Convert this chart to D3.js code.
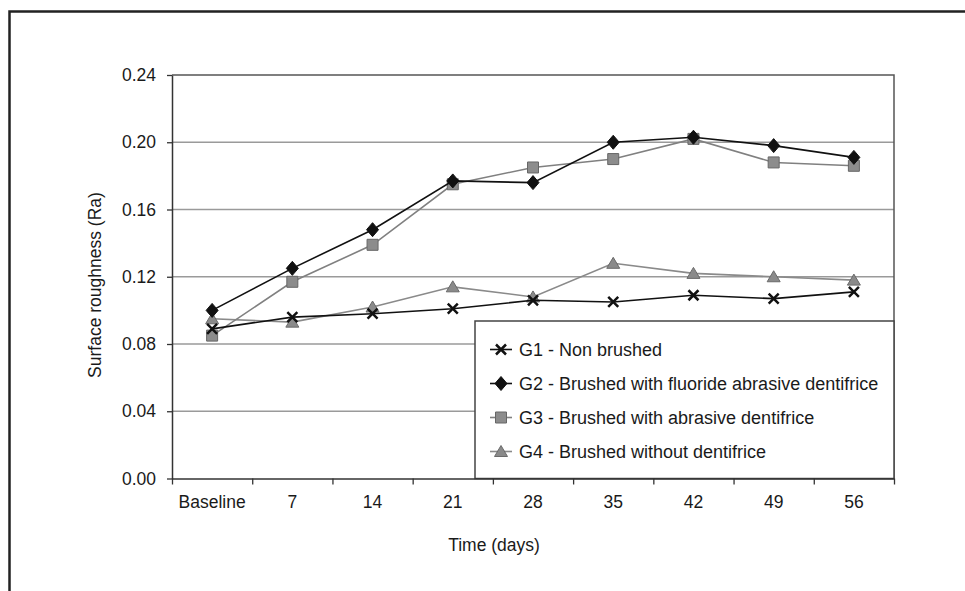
<!DOCTYPE html>
<html>
<head>
<meta charset="utf-8">
<script src="https://cdn.jsdelivr.net/npm/d3@7"></script>
<style>
  body { margin: 0; background: #fff; }
  svg { display: block; font-family: "Liberation Sans", Arial, sans-serif; }
</style>
</head>
<body>
<div id="container"></div>
<script>
// chart values
let days = ["Baseline", "7", "14", "21", "28", "35", "42", "49", "56"];
let g1 = [0.089, 0.096, 0.098, 0.101, 0.106, 0.105, 0.109, 0.107, 0.111];
let g2 = [0.100, 0.125, 0.148, 0.177, 0.176, 0.200, 0.203, 0.198, 0.191];
let g3 = [0.085, 0.117, 0.139, 0.175, 0.185, 0.190, 0.202, 0.188, 0.186];
let g4 = [0.095, 0.093, 0.102, 0.114, 0.108, 0.128, 0.122, 0.120, 0.118];
let groupNames = [
  "G1 - Non brushed",
  "G2 - Brushed with fluoride abrasive dentifrice",
  "G3 - Brushed with abrasive dentifrice",
  "G4 - Brushed without dentifrice"
];
let yTicks = [0, 0.04, 0.08, 0.12, 0.16, 0.20, 0.24];

///////////////////////////

let w = 965;
let h = 591;
let plotLeft = 172, plotRight = 894, plotTop = 75, plotBottom = 478.5;

let viz = d3.select("#container").append("svg")
    .attr("width", w)
    .attr("height", h);

// outer frame (only top and left edges show)
viz.append("path")
    .attr("d", "M9.5,591 V11.5 H965")
    .attr("fill", "none")
    .attr("stroke", "#222")
    .attr("stroke-width", 2.5);

let x = d3.scaleBand().domain(days).range([plotLeft, plotRight]).padding(0);
let xEdge = d3.scaleLinear().domain([0, days.length]).range([plotLeft, plotRight]);
let y = d3.scaleLinear().domain([0, 0.24]).range([plotBottom, plotTop]);

// gridlines
viz.append("g").selectAll("line")
    .data(yTicks.filter(d => d > 0 && d < 0.24))
    .enter().append("line")
    .attr("x1", plotLeft).attr("x2", plotRight)
    .attr("y1", d => y(d)).attr("y2", d => y(d))
    .attr("stroke", "#9a9a9a")
    .attr("stroke-width", 1.5);

// plot border top + right
viz.append("path")
    .attr("d", `M${plotLeft},${y(0.24)} H${plotRight} V${plotBottom}`)
    .attr("fill", "none")
    .attr("stroke", "#555")
    .attr("stroke-width", 1.5);

let series = [
  { name: groupNames[3], values: g4, line: "#8a8a8a", fill: "#8a8a8a", stroke: "#6a6a6a", shape: "tri" },
  { name: groupNames[2], values: g3, line: "#808080", fill: "#8c8c8c", stroke: "#666", shape: "sq" },
  { name: groupNames[0], values: g1, line: "#111", fill: "none", stroke: "#111", shape: "x" },
  { name: groupNames[1], values: g2, line: "#111", fill: "#111", stroke: "#111", shape: "dia" }
];

function markerPath(shape) {
  if (shape === "tri") return "M0,-6 L6.5,5 L-6.5,5 Z";
  if (shape === "sq") return "M-5.5,-5.5 H5.5 V5.5 H-5.5 Z";
  if (shape === "dia") return "M0,-7 L6,0 L0,7 L-6,0 Z";
  return "M-5,-5 L5,5 M5,-5 L-5,5";
}

function drawMarker(sel, s) {
  sel.append("path")
    .attr("d", markerPath(s.shape))
    .attr("fill", s.fill)
    .attr("stroke", s.stroke)
    .attr("stroke-width", s.shape === "x" ? 2.5 : 1);
}

let line = d3.line()
    .x((d, i) => x(days[i]) + x.bandwidth() / 2)
    .y(d => y(d));

series.forEach(function(s) {
  viz.append("path")
    .datum(s.values)
    .attr("d", line)
    .attr("fill", "none")
    .attr("stroke", s.line)
    .attr("stroke-width", 1.6);

  let pts = viz.append("g").selectAll("g")
    .data(s.values)
    .enter().append("g")
    .attr("transform", (d, i) => `translate(${x(days[i]) + x.bandwidth() / 2},${y(d)})`);
  drawMarker(pts, s);
});

// legend
let legX = 475, legY = 321;
viz.append("rect")
    .attr("x", legX).attr("y", legY)
    .attr("width", plotRight - legX).attr("height", plotBottom - legY)
    .attr("fill", "#fff")
    .attr("stroke", "#444")
    .attr("stroke-width", 1.5);

let legendOrder = [series[2], series[3], series[1], series[0]];
legendOrder.forEach(function(s, i) {
  let cy = 349.5 + i * 34;
  let g = viz.append("g").attr("transform", `translate(0,${cy})`);
  g.append("line")
    .attr("x1", 490).attr("x2", 512)
    .attr("stroke", s.line).attr("stroke-width", 1.6);
  let m = g.append("g").attr("transform", "translate(501,0)");
  drawMarker(m, s);
  g.append("text")
    .attr("x", 519)
    .attr("y", 6.5)
    .attr("font-size", 18)
    .attr("fill", "#1a1a1a")
    .text(s.name);
});

// axes
let yAxis = viz.append("g")
    .attr("transform", `translate(${plotLeft},0)`)
    .call(d3.axisLeft(y).tickValues(yTicks).tickFormat(d3.format(".2f")).tickSize(5).tickSizeOuter(0).tickPadding(11));
yAxis.select(".domain").attr("stroke", "#333").attr("stroke-width", 1.5);
yAxis.selectAll(".tick line").attr("stroke", "#333").attr("stroke-width", 1.3);
yAxis.selectAll("text").attr("font-size", 17.5).attr("fill", "#1a1a1a")
    .attr("font-family", "Liberation Sans, Arial, sans-serif");

let xTicks = viz.append("g")
    .attr("transform", `translate(0,${plotBottom})`)
    .call(d3.axisBottom(xEdge).tickValues(d3.range(0, days.length + 1)).tickFormat("").tickSize(6).tickSizeOuter(0));
xTicks.select(".domain").attr("stroke", "#333").attr("stroke-width", 1.5);
xTicks.selectAll(".tick line").attr("stroke", "#333").attr("stroke-width", 1.3);

let xLabels = viz.append("g")
    .attr("transform", `translate(0,${plotBottom})`)
    .call(d3.axisBottom(x).tickSize(0).tickPadding(17));
xLabels.select(".domain").remove();
xLabels.selectAll("text").attr("font-size", 17.5).attr("fill", "#1a1a1a")
    .attr("font-family", "Liberation Sans, Arial, sans-serif");

// axis titles
viz.append("text")
    .attr("x", 494).attr("y", 551)
    .attr("text-anchor", "middle")
    .attr("font-size", 17.5)
    .attr("fill", "#1a1a1a")
    .text("Time (days)");

viz.append("text")
    .attr("transform", "translate(101,285) rotate(-90)")
    .attr("text-anchor", "middle")
    .attr("font-size", 17.5)
    .attr("fill", "#1a1a1a")
    .text("Surface roughness (Ra)");
</script>
</body>
</html>
